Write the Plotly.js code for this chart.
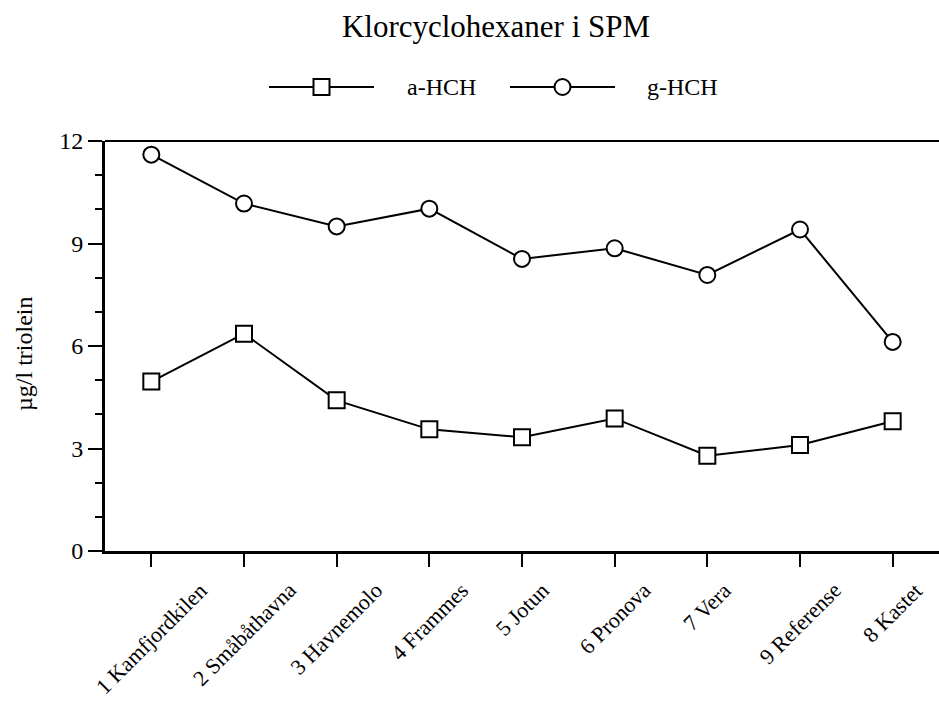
<!DOCTYPE html>
<html>
<head>
<meta charset="utf-8">
<script src="https://cdn.plot.ly/plotly-3.0.1.min.js"></script>
<style>html,body{margin:0;padding:0;background:#fff;}#chart{width:939px;height:705px;}</style>
</head>
<body>
<div id="chart"></div>
<script>
const categories = ["1 Kamfjordkilen", "2 Småbåthavna", "3 Havnemolo", "4 Frammes", "5 Jotun", "6 Pronova", "7 Vera", "9 Referense", "8 Kastet"];
const aHCH = [4.96, 6.36, 4.41, 3.56, 3.33, 3.88, 2.79, 3.10, 3.80];
const gHCH = [11.6, 10.17, 9.5, 10.02, 8.55, 8.86, 8.08, 9.41, 6.12];
const seriesNames = ["a-HCH", "g-HCH"];
const yTicks = [0, 3, 6, 9, 12];
const yTitle = "µg/l triolein";

const FONT = "Liberation Serif, Times New Roman, serif";
const L = 105, R = 0, T = 141, B = 154, W = 939, H = 705;
const pw = W - L - R, ph = H - T - B;
const px2x = p => (p - L) / pw;
const py2y = p => (H - B - p) / ph;

const traces = [
  {x: categories, y: aHCH, name: seriesNames[0], type: "scatter", mode: "lines+markers",
   line: {color: "#000", width: 2},
   marker: {symbol: "square", size: 16, color: "#fff", line: {color: "#000", width: 2}},
   cliponaxis: false},
  {x: categories, y: gHCH, name: seriesNames[1], type: "scatter", mode: "lines+markers",
   line: {color: "#000", width: 2},
   marker: {symbol: "circle", size: 16, color: "#fff", line: {color: "#000", width: 2}},
   cliponaxis: false}
];

// custom legend (long line samples like the original)
const legY = py2y(87);
const legItems = [
  {x0: 269, x1: 374, tx: 405, sym: "rect", name: seriesNames[0]},
  {x0: 510, x1: 615, tx: 645, sym: "circle", name: seriesNames[1]}
];
const shapes = [
  {type: "line", xref: "paper", yref: "paper", x0: 0, x1: 1, y0: 1, y1: 1, line: {color: "#000", width: 2}}
];
const annotations = [];
legItems.forEach(it => {
  const c = px2x((it.x0 + it.x1) / 2);
  shapes.push({type: "line", xref: "paper", yref: "paper", x0: px2x(it.x0), x1: px2x(it.x1), y0: legY, y1: legY, line: {color: "#000", width: 2}});
  shapes.push({type: it.sym, xref: "paper", yref: "paper", xsizemode: "pixel", ysizemode: "pixel",
    xanchor: c, yanchor: legY, x0: -8, x1: 8, y0: -8, y1: 8, fillcolor: "#fff", line: {color: "#000", width: 2}});
  annotations.push({xref: "paper", yref: "paper", x: px2x(it.tx), y: legY, xanchor: "left", yanchor: "middle",
    text: it.name, showarrow: false, font: {family: FONT, size: 24, color: "#000"}});
});

// rotated category labels, centred under each tick
categories.forEach(c => {
  annotations.push({xref: "x", yref: "paper", x: c, y: py2y(575), xanchor: "center", yanchor: "top",
    text: c, textangle: -45, showarrow: false, font: {family: FONT, size: 22, color: "#000"}});
});

// y-axis title
annotations.push({xref: "paper", yref: "paper", x: px2x(24), y: py2y(354), xanchor: "center", yanchor: "middle",
  text: yTitle, textangle: -90, showarrow: false, font: {family: FONT, size: 24, color: "#000"}});

const layout = {
  width: W, height: H,
  margin: {l: L, r: R, t: T, b: B},
  paper_bgcolor: "#fff", plot_bgcolor: "#fff",
  showlegend: false,
  font: {family: FONT, color: "#000", size: 24},
  title: {text: "Klorcyclohexaner i SPM", x: 496 / W, xref: "container", xanchor: "center", y: 1 - 26 / H, yanchor: "middle",
    font: {family: FONT, size: 31, color: "#000"}},
  xaxis: {
    type: "category", range: [-0.5, 8.5], showgrid: false, zeroline: false,
    showline: true, linecolor: "#000", linewidth: 3,
    ticks: "outside", ticklen: 13, tickwidth: 2, tickcolor: "#000",
    showticklabels: false
  },
  yaxis: {
    range: [0, 12], tickvals: yTicks, ticktext: yTicks.map(String), showgrid: false, zeroline: false,
    showline: true, linecolor: "#000", linewidth: 3,
    ticks: "outside", ticklen: 14, tickwidth: 2, tickcolor: "#000",
    tickfont: {family: FONT, size: 24, color: "#000"},
    minor: {dtick: 1, ticks: "outside", ticklen: 7, tickwidth: 2, tickcolor: "#000", showgrid: false}
  },
  shapes: shapes,
  annotations: annotations
};

Plotly.newPlot("chart", traces, layout, {displayModeBar: false, staticPlot: true});
</script>
</body>
</html>
